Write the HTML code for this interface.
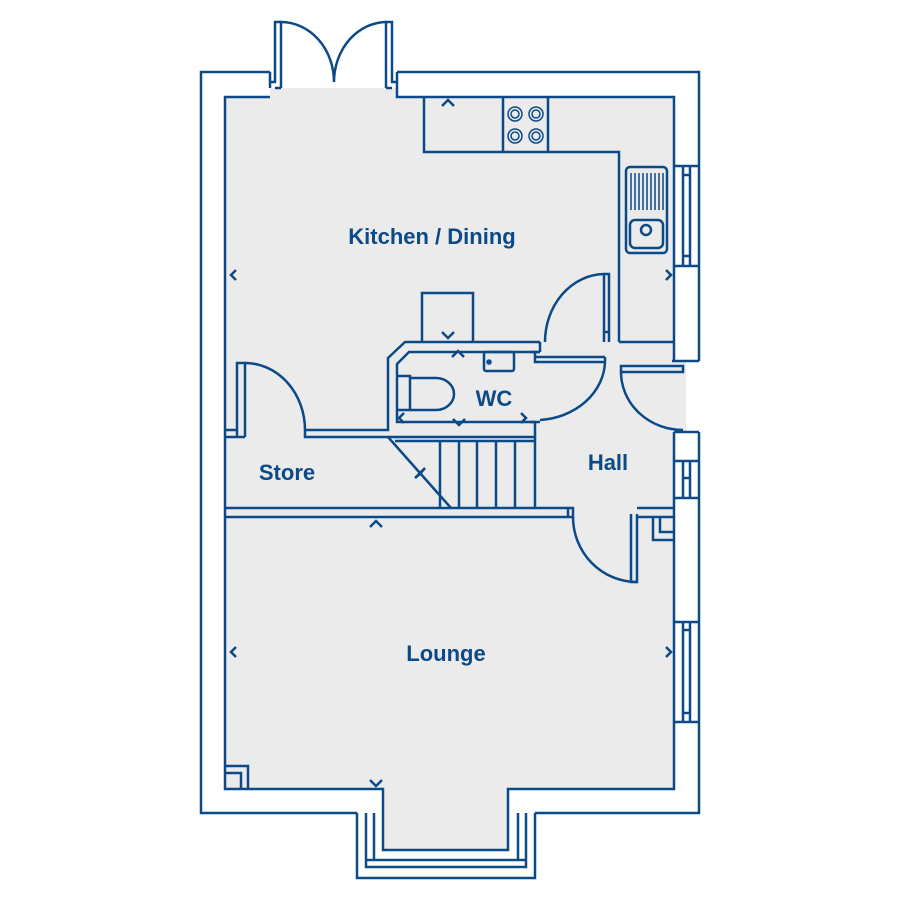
<!DOCTYPE html>
<html><head><meta charset="utf-8"><style>
html,body{margin:0;padding:0;background:#fff}
svg{display:block}
text{font-family:"Liberation Sans",sans-serif;font-weight:bold;fill:#0b4a87;text-anchor:middle}
</style></head><body>
<svg width="900" height="900" viewBox="0 0 900 900" xmlns="http://www.w3.org/2000/svg">
<g fill="none" stroke="#0b4a87" stroke-width="2.5">
<!-- floor -->
<path d="M225 97 H674 V789 H508 V850 H383 V789 H225 Z" fill="#ebebeb" stroke="none"/>
<rect x="270" y="88" width="128" height="10" fill="#ebebeb" stroke="none"/>
<rect x="672" y="360" width="14" height="72" fill="#ebebeb" stroke="none"/>
<!-- outer walls -->
<path d="M270 72 H201 V813 H357"/>
<path d="M270 72 V88 H270 M270 97 H225 V789 H383 V850 H508 V789 H674 V432"/>
<path d="M397 72 V97 H674 V360"/>
<path d="M397 72 H699 V361"/>
<path d="M699 432 V813 H535"/>
<path d="M357 813 V878 H535 V813"/>
<path d="M366 813 V867 H526 V813 M374 813 V860 H518 V813 M366 860 H526"/>
<path d="M672 361 H699 M674 432 H699"/>
<!-- kitchen windows right -->
<path d="M674 166 H699 M674 266 H699 M683 166 V266 M690 166 V266 M683 175 H690 M683 256 H690"/>
<path d="M674 498 H699 M683 461 V498 M690 461 V498 M674 461 H699 M683 478 H690"/>
<path d="M674 622 H699 M674 722 H699 M683 622 V722 M690 622 V722 M683 630 H690 M683 713 H690"/>
<!-- french doors -->
<path d="M270 82 H275 V22 H281 V88 M275 88 H281"/>
<path d="M397 82 H392 V22 H386 V88 M392 88 H386"/>
<path d="M281 22 A53 60 0 0 1 334 82 M386 22 A53 60 0 0 0 334 82"/>
<!-- kitchen units -->
<path d="M424 97 V152 H619 V342 M674 342 H619"/>
<path d="M503 97 V152 M548 97 V152"/>
<rect x="626" y="167" width="41" height="86" rx="4"/>
<rect x="630" y="220" width="33" height="28" rx="5"/>
<circle cx="646" cy="230" r="5"/>
<path d="M631 173 V210 M635 173 V210 M639 173 V210 M643 173 V210 M647 173 V210 M651 173 V210 M655 173 V210 M659 173 V210 M663 173 V210" stroke-width="1.5"/>
<g stroke-width="1.5">
<circle cx="515" cy="114" r="7"/><circle cx="515" cy="114" r="4"/>
<circle cx="536" cy="114" r="7"/><circle cx="536" cy="114" r="4"/>
<circle cx="515" cy="136" r="7"/><circle cx="515" cy="136" r="4"/>
<circle cx="536" cy="136" r="7"/><circle cx="536" cy="136" r="4"/>
</g>
<!-- cupboard -->
<path d="M422 342 V293 H473 V342"/>
<!-- WC walls -->
<path d="M540 342 H405 L388 358 V430 H305"/>
<path d="M540 352 H409 L397 364 V422 H535"/>
<path d="M540 342 V352 M530 352 H540 M535 352 V362 H605"/>
<path d="M535 422 V437 H305 V430 M530 422 H540"/>
<rect x="484" y="352" width="30" height="19" rx="2"/>
<circle cx="489" cy="362" r="1.5"/>
<path d="M397 376 H410 V410 H397"/>
<path d="M410 378 H436 A18 16 0 0 1 436 410 H410"/>
<!-- WC door -->
<path d="M605 357 V362 M535 357 H605"/>
<path d="M605 362 A70 60 0 0 1 540 420"/>
<!-- kitchen door -->
<path d="M604 274 V332 H609 V274 H604 M609 332 V342 M604 332 V342"/>
<path d="M604 274 A60 68 0 0 0 545 342"/>
<!-- hall door to front -->
<path d="M621 366 V372 H683 V366 Z"/>
<path d="M621 372 A62 58 0 0 0 683 430"/>
<!-- store wall and door -->
<path d="M237 437 V363 H245 V437 M225 430 H237 M225 437 H245"/>
<path d="M245 363 A60 67 0 0 1 305 430"/>
<!-- stairs -->
<path d="M388 437 L451 508 M535 437 V508"/>
<path d="M440 441 V508 M459 441 V508 M477 441 V508 M496 441 V508 M515 441 V508 M395 441 H535"/>
<path d="M415 478 L425 468 L420 474 Z"/>
<!-- lounge wall -->
<path d="M225 508 H573 V517 H225 M568 508 V517"/>
<path d="M637 508 H674 M637 517 H674 M631 514 V582 H637 V514 M653 517 V540 H674 M660 517 V532 H674"/>
<path d="M573 517 A64 65 0 0 0 637 582"/>
<!-- corner box -->
<path d="M225 766 H248 V789 M225 773 H241 V789"/>
<!-- arrows -->
<g stroke-width="2.5">
<path d="M442 106 L448 100 L454 106"/>
<path d="M236 270 L231 275 L236 280"/>
<path d="M666 270 L671 275 L666 280"/>
<path d="M442 332 L448 338 L454 332"/>
<path d="M452 357 L458 351 L464 357"/>
<path d="M404 413 L399 418 L404 423"/>
<path d="M453 419 L459 425 L465 419"/>
<path d="M521 413 L526 418 L521 423"/>
<path d="M370 527 L376 521 L382 527"/>
<path d="M236 647 L231 652 L236 657"/>
<path d="M666 647 L671 652 L666 657"/>
<path d="M370 780 L376 786 L382 780"/>
</g>
</g>
<text x="432" y="244" font-size="22">Kitchen / Dining</text>
<text x="494" y="406" font-size="22">WC</text>
<text x="287" y="480" font-size="22">Store</text>
<text x="608" y="470" font-size="22">Hall</text>
<text x="446" y="661" font-size="22">Lounge</text>
</svg>
</body></html>
